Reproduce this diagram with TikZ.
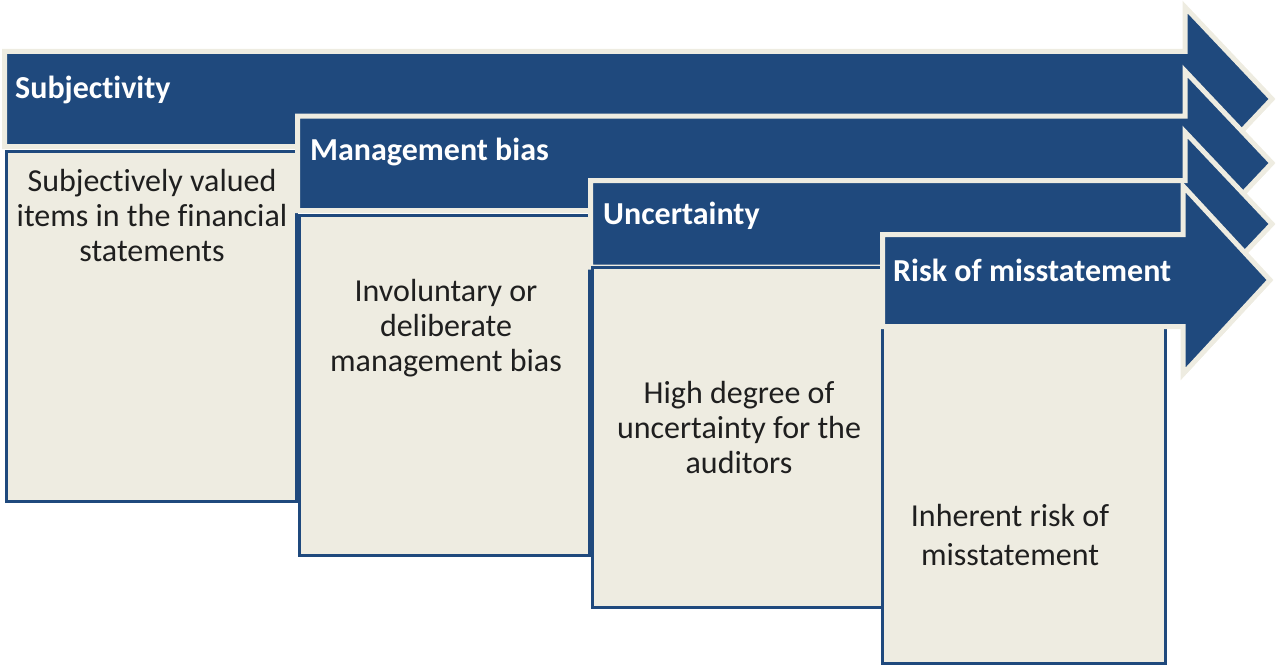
\documentclass[tikz,border=0pt]{standalone}
\usepackage{fontspec}
\setmainfont{Carlito}[Ligatures=NoCommon]
\usetikzlibrary{shadows}
\definecolor{navy}{HTML}{1F497D}
\definecolor{cream}{HTML}{EEECE1}
\begin{document}
\begin{tikzpicture}[x=1pt,y=-1pt,
  arrowshape/.style={fill=navy, draw=cream, line width=5pt, line join=miter,
    drop shadow={opacity=0.25, shadow xshift=1.5pt, shadow yshift=-1.5pt}},
  boxshape/.style={fill=cream, draw=navy, line width=3pt},
  title/.style={text=white, font=\fontsize{32}{36}\selectfont\bfseries, anchor=west, inner sep=0pt},
  body/.style={text=black!88, font=\fontsize{32}{35}\selectfont, align=center, inner sep=0pt}]
\useasboundingbox (0,0) rectangle (1282,669);
% arrow 1
\draw[arrowshape] (4.5,51.5) -- (1185,51.5) -- (1185,7) -- (1272,99) -- (1185,191) -- (1185,146.5) -- (4.5,146.5) -- cycle;
\draw[boxshape] (6.5,151.5) rectangle (296.5,501.5);
% arrow 2
\draw[arrowshape] (297.5,116) -- (1185,116) -- (1185,71) -- (1272,163) -- (1185,255) -- (1185,210.5) -- (297.5,210.5) -- cycle;
\draw[boxshape] (299.5,215) rectangle (589.5,555);
% arrow 3
\draw[arrowshape] (590.5,180.5) -- (1185,180.5) -- (1185,132) -- (1272,224) -- (1185,316) -- (1185,267) -- (590.5,267) -- cycle;
\draw[boxshape] (592,267.5) rectangle (885.5,607);
% arrow 4
\draw[boxshape] (882,318) rectangle (1165,663);
\draw[arrowshape] (882.5,234.5) -- (1183,234.5) -- (1183,186) -- (1270,280) -- (1183,374) -- (1183,326.5) -- (882.5,326.5) -- cycle;
% titles
\node[title] (t1) at (15,90) {Subjectivity};
\node[title] (t2) at (310,152) {Management bias};
\node[title] (t3) at (603,216) {Uncertainty};
\node[title] (t4) at (893,270) {Risk of misstatement};
% body texts
\node[body] (b1) at (152,216) {Subjectively valued\\items in the financial\\statements};
\node[body] (b2) at (446,328) {Involuntary or\\deliberate\\management bias};
\node[body] (b3) at (739,428) {High degree of\\uncertainty for the\\auditors};
\node[body, font=\fontsize{32}{39}\selectfont] (b4) at (1010,535) {Inherent risk of\\misstatement};
\end{tikzpicture}
\end{document}
